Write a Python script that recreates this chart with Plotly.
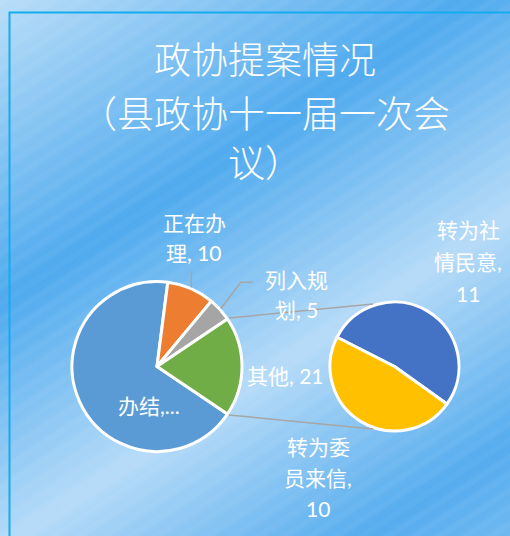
import base64
import math
import plotly.graph_objects as go

W, H = 510, 536

# data
main_labels = ["办结", "正在办理", "列入规划", "其他"]
main_values = [75, 10, 5, 21]
main_colors = ["#5b9bd5", "#ed7d31", "#a5a5a5", "#70ad47"]

sub_labels = ["转为社情民意", "转为委员来信"]
sub_values = [11, 10]
sub_colors = ["#4472c4", "#ffc000"]

title_lines = ["政协提案情况", "（县政协十一届一次会", "议）"]

# label text, wrapped like the original
label_lines = [
    ["办结,..."],
    ["正在办", f"理, {main_values[1]}"],
    ["列入规", f"划, {main_values[2]}"],
    [f"其他, {main_values[3]}"],
]
sub_label_lines = [
    ["转为社", "情民意,", f"{sub_values[0]}"],
    ["转为委", "员来信,", f"{sub_values[1]}"],
]

# where things sit, in pixels
main_cx, main_cy, main_r = 157, 366.5, 85
sub_cx, sub_cy, sub_r = 394.5, 366.5, 64.5
label_pos = [(149, 405, 0), (194, 222, 31), (296, 279, 30), (285, 375, 0)]
sub_label_pos = [(468, 229, 32), (318, 446, 31)]

LABEL_FONT = "Lato, Noto Sans CJK SC, sans-serif"
CJK_FONT = "Noto Sans CJK SC, sans-serif"
GRID = "#a6a6a6"


def px(x):
    return x / W


def py(y):
    return 1 - y / H


def on_circle(cx, cy, r, deg):
    a = math.radians(deg)
    return cx + r * math.sin(a), cy - r * math.cos(a)


def dom(cx, cy, r):
    return dict(x=[px(cx - r), px(cx + r)], y=[py(cy + r), py(cy - r)])


# slice angles (clockwise from 12 o'clock); "其他" faces the second pie
unit = 360 / sum(main_values)
main_rot = 90 + main_values[3] * unit / 2
starts = []
a = main_rot
for v in main_values:
    starts.append(a)
    a += v * unit
mids = [s + v * unit / 2 for s, v in zip(starts, main_values)]

# background: office-like blue gradient with faint stripes
bg_svg = f"""<svg xmlns='http://www.w3.org/2000/svg' width='{W}' height='{H}'>
<defs>
<linearGradient id='g' gradientUnits='userSpaceOnUse' x1='0' y1='0' x2='397' y2='611'>
<stop offset='0' stop-color='#b9ddf8'/>
<stop offset='0.35' stop-color='#4faaee'/>
<stop offset='0.63' stop-color='#b6dbf8'/>
<stop offset='0.89' stop-color='#55acee'/>
<stop offset='1' stop-color='#70b9f1'/>
</linearGradient>
<pattern id='s' width='14' height='14' patternUnits='userSpaceOnUse' patternTransform='rotate(-33)'>
<rect width='14' height='6' fill='white' fill-opacity='0.035'/>
</pattern>
</defs>
<rect width='{W}' height='{H}' fill='url(#g)'/>
<rect width='{W}' height='{H}' fill='url(#s)'/>
</svg>"""
bg_uri = "data:image/svg+xml;base64," + base64.b64encode(bg_svg.encode()).decode()

fig = go.Figure()

fig.add_trace(go.Pie(
    labels=main_labels, values=main_values, sort=False, direction="clockwise",
    rotation=main_rot, marker=dict(colors=main_colors, line=dict(color="white", width=3)),
    textinfo="none", domain=dom(main_cx, main_cy, main_r), showlegend=False,
))
fig.add_trace(go.Pie(
    labels=sub_labels, values=sub_values, sort=False, direction="clockwise",
    rotation=-63, marker=dict(colors=sub_colors, line=dict(color="white", width=3)),
    textinfo="none", domain=dom(sub_cx, sub_cy, sub_r), showlegend=False,
))

shapes = []

# frame of the chart area (runs off the right and bottom edges)
shapes.append(dict(type="rect", xref="paper", yref="paper", x0=px(9.5), x1=1.1,
                   y0=-0.1, y1=py(12.5), line=dict(color="#14acef", width=2)))

# connector lines between the pies
g0 = on_circle(main_cx, main_cy, main_r + 1.5, starts[3])
g1 = on_circle(main_cx, main_cy, main_r + 1.5, starts[3] + main_values[3] * unit)
s0 = on_circle(sub_cx, sub_cy, sub_r + 1.5, -19)
s1 = on_circle(sub_cx, sub_cy, sub_r + 1.5, 199)
for p, q in [(g0, s0), (g1, s1)]:
    shapes.append(dict(type="line", xref="paper", yref="paper", x0=px(p[0]), y0=py(p[1]),
                       x1=px(q[0]), y1=py(q[1]), line=dict(color=GRID, width=1.5)))

# leader lines
o = on_circle(main_cx, main_cy, main_r + 1, mids[1])
shapes.append(dict(type="line", xref="paper", yref="paper", x0=px(o[0]), y0=py(o[1]),
                   x1=px(o[0]), y1=py(o[1] - 16), line=dict(color=GRID, width=1.5)))
gr = on_circle(main_cx, main_cy, main_r + 1, mids[2])
path = (f"M {px(gr[0])} {py(gr[1])} L {px(gr[0] + 20)} {py(gr[1] - 26.5)} "
        f"L {px(gr[0] + 32)} {py(gr[1] - 26.5)}")
shapes.append(dict(type="path", xref="paper", yref="paper", path=path,
                   line=dict(color=GRID, width=1.5)))

annotations = []
for i, line in enumerate(title_lines):
    annotations.append(dict(text=line, x=px(265), y=py([58, 112, 161][i]), xref="paper", yref="paper",
                            xanchor="center", yanchor="middle", showarrow=False,
                            font=dict(family=CJK_FONT, size=37, color="white", weight=300)))

for lines, (cx, y0, step) in zip(label_lines + sub_label_lines, label_pos + sub_label_pos):
    for j, line in enumerate(lines):
        annotations.append(dict(text=line, x=px(cx), y=py(y0 + j * step), xref="paper", yref="paper",
                                xanchor="center", yanchor="middle", showarrow=False,
                                font=dict(family=LABEL_FONT, size=21, color="white")))

fig.update_layout(
    width=W, height=H, margin=dict(l=0, r=0, t=0, b=0),
    paper_bgcolor="#7fc1f3", plot_bgcolor="rgba(0,0,0,0)",
    shapes=shapes, annotations=annotations,
    images=[dict(source=bg_uri, xref="paper", yref="paper", x=0, y=1, sizex=1, sizey=1,
                 sizing="stretch", layer="below", xanchor="left", yanchor="top")],
)

fig.write_html("out.html", config={"displayModeBar": False},
               post_script="document.body.style.margin='0';document.body.style.overflow='hidden';")
